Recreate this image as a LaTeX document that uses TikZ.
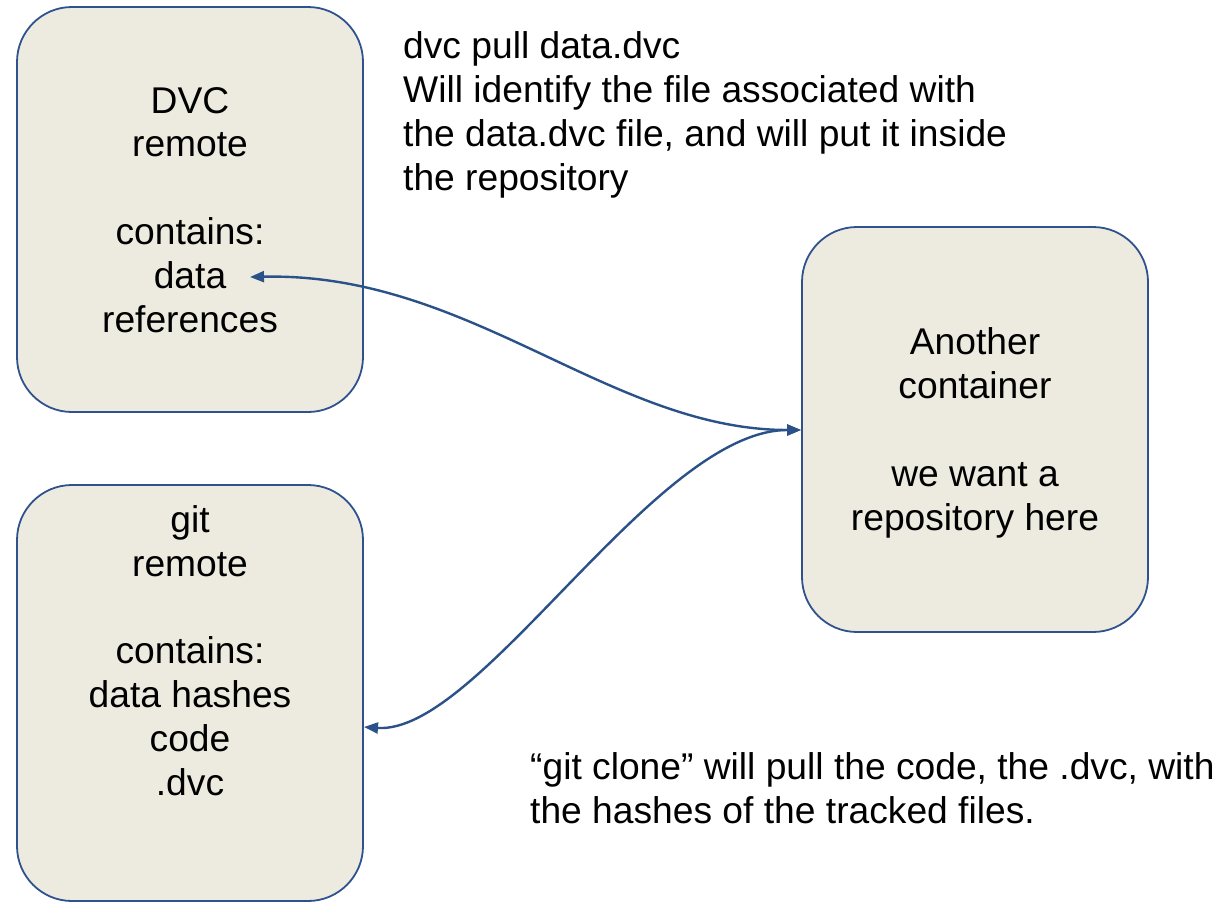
\documentclass[tikz,border=0pt]{standalone}
\usepackage{fontspec}
\setmainfont{Liberation Sans}
\usetikzlibrary{arrows.meta}
\definecolor{boxfill}{HTML}{EDEBE0}
\definecolor{boxline}{HTML}{2F528F}
\definecolor{arrowcol}{HTML}{2A5288}
\tikzset{
  box/.style={draw=boxline, fill=boxfill, line width=1.8pt, rounded corners=55pt,
    minimum width=346pt, inner sep=0pt},
  txt/.style={font=\fontsize{37.2}{43.8}\selectfont, inner sep=0pt, text=black},
  conn/.style={draw=arrowcol, line width=2.4pt, {Triangle[length=14pt,width=11pt]}-{Triangle[length=14pt,width=11pt]}}
}
\begin{document}
\begin{tikzpicture}[x=1pt,y=-1pt]
\useasboundingbox (0,0) rectangle (1225,902);
% boxes
\node[box, minimum height=405pt] (dvc) at (190,209.5) {};
\node[box, minimum height=416pt] (git) at (190,693) {};
\node[box, minimum height=405pt] (another) at (975,429.5) {};
% box texts (anchor base = baseline of last line)
\node[txt, align=center, anchor=base] (dvctext) at (190,332) {DVC\\remote\\[43.8pt]contains:\\data\\references};
\node[txt, align=center, anchor=base] (gittext) at (190,795) {git\\remote\\[43.8pt]contains:\\data hashes\\code\\.dvc};
\node[txt, align=center, anchor=base] (anothertext) at (975,530) {Another\\container\\[43.8pt]we want a\\repository here};
% free texts
\node[txt, align=left, anchor=base west] (pulltext) at (403,190) {dvc pull data.dvc\\Will identify the file associated with\\the data.dvc file, and will put it inside\\the repository};
\node[txt, align=left, anchor=base west] (clonetext) at (530,823) {“git clone” will pull the code, the .dvc, with\\the hashes of the tracked files.};
% connector ends
\coordinate (dataend) at (250,277);
\coordinate (gitend) at (364,727);
\coordinate (anotherend) at (801,430);
\draw[conn] (dataend) .. controls (470,272) and (610,430) .. (anotherend);
\draw[conn] (gitend) .. controls (480,735) and (655,430) .. (anotherend);
\end{tikzpicture}
\end{document}
